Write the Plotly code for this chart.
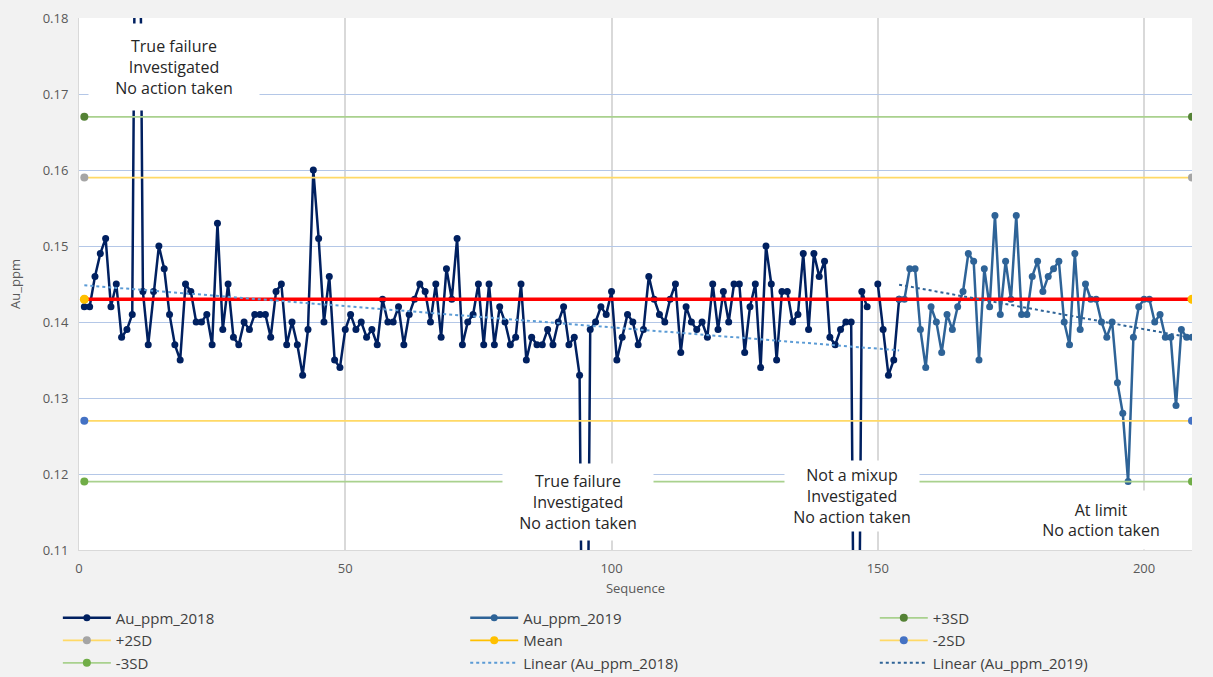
import plotly.graph_objects as go
import numpy as np

# Au_ppm control chart values (None = gap)
seq_2018 = list(range(1, 155))
au_2018 = [
    0.142, 0.142, 0.146, 0.149, 0.151, 0.142, 0.145, 0.138, 0.139, 0.141,
    0.240, 0.144, 0.137, 0.144, 0.150, 0.147, 0.141, 0.137, 0.135, 0.145,
    0.144, 0.140, 0.140, 0.141, 0.137, 0.153, 0.139, 0.145, 0.138, 0.137,
    0.140, 0.139, 0.141, 0.141, 0.141, 0.138, 0.144, 0.145, 0.137, 0.140,
    0.137, 0.133, 0.139, 0.160, 0.151, 0.140, 0.146, 0.135, 0.134, 0.139,
    0.141, 0.139, 0.140, 0.138, 0.139, 0.137, 0.143, 0.140, 0.140, 0.142,
    0.137, 0.141, 0.143, 0.145, 0.144, 0.140, 0.145, 0.138, 0.147, 0.143,
    0.151, 0.137, 0.140, 0.141, 0.145, 0.137, 0.145, 0.137, 0.142, 0.140,
    0.137, 0.138, 0.145, 0.135, 0.138, 0.137, 0.137, 0.139, 0.137, 0.140,
    0.142, 0.137, 0.138, 0.133, 0.050, 0.139, 0.140, 0.142, 0.141, 0.144,
    0.135, 0.138, 0.141, 0.140, 0.137, 0.139, 0.146, 0.143, 0.141, 0.140,
    0.143, 0.145, 0.136, 0.142, 0.140, 0.139, 0.140, 0.138, 0.145, 0.139,
    0.144, 0.140, 0.145, 0.145, 0.136, 0.142, 0.145, 0.134, 0.150, 0.145,
    0.135, 0.144, 0.144, 0.140, 0.141, 0.149, 0.139, 0.149, 0.146, 0.148,
    0.138, 0.137, 0.139, 0.140, 0.140, 0.050, 0.144, 0.142, None, 0.145,
    0.139, 0.133, 0.135, 0.143,
]

seq_2019 = list(range(154, 210))
au_2019 = [
    0.143, 0.143, 0.147, 0.147, 0.139, 0.134, 0.142, 0.140, 0.136, 0.141,
    0.139, 0.142, 0.144, 0.149, 0.148, 0.135, 0.147, 0.142, 0.154, 0.141,
    0.148, 0.143, 0.154, 0.141, 0.141, 0.146, 0.148, 0.144, 0.146, 0.147,
    0.148, 0.140, 0.137, 0.149, 0.139, 0.145, 0.143, 0.143, 0.140, 0.138,
    0.140, 0.132, 0.128, 0.119, 0.138, 0.142, 0.143, 0.143, 0.140, 0.141,
    0.138, 0.138, 0.129, 0.139, 0.138, 0.138,
]

limit_seq = [1, 209]
limit_names = ["+3SD", "+2SD", "Mean", "-2SD", "-3SD"]
limit_values = [0.167, 0.159, 0.143, 0.127, 0.119]
limit_line_colors = ["#a9d18e", "#ffd966", "#ffc000", "#ffd966", "#a9d18e"]
limit_marker_colors = ["#548235", "#a5a5a5", "#ffc000", "#4472c4", "#70ad47"]
# which legend column each limit series sits in
limit_legend = ["legend3", "legend", "legend2", "legend3", "legend"]

notes = [
    "True failure<br>Investigated<br>No action taken",
    "True failure<br>Investigated<br>No action taken",
    "Not a mixup<br>Investigated<br>No action taken",
    "At limit<br>No action taken",
]
note_x = [17.9, 93.7, 145.1, 191.9]
note_y = [0.1735, 0.1163, 0.1171, 0.1140]
note_w = [168, 148, 132, 150]
note_h = [84, 74, 68, 56]

FONT = "Open Sans, Calibri, sans-serif"


def trend(xs, ys):
    pts = [(x, y) for x, y in zip(xs, ys) if y is not None]
    px = np.array([p[0] for p in pts], dtype=float)
    py = np.array([p[1] for p in pts], dtype=float)
    slope, icpt = np.polyfit(px, py, 1)
    ends = [px.min(), px.max()]
    return ends, [slope * e + icpt for e in ends]


fig = go.Figure()

fig.add_trace(go.Scatter(
    x=seq_2018, y=au_2018, name="Au_ppm_2018", mode="lines+markers",
    line=dict(color="#002060", width=2.5), marker=dict(size=7, color="#002060"),
    connectgaps=False, legend="legend", legendrank=1,
))
fig.add_trace(go.Scatter(
    x=seq_2019, y=au_2019, name="Au_ppm_2019", mode="lines+markers",
    line=dict(color="#2e6397", width=2.5), marker=dict(size=7, color="#2e6397"),
    legend="legend2", legendrank=1,
))

for i, (name, val, lc, mc, lg) in enumerate(zip(limit_names, limit_values, limit_line_colors,
                                               limit_marker_colors, limit_legend)):
    fig.add_trace(go.Scatter(
        x=limit_seq, y=[val, val], name=name, mode="lines+markers",
        line=dict(color=lc, width=1.8), marker=dict(size=8, color=mc),
        legend=lg, legendrank=2 + i,
    ))

# red mean line drawn over everything
mean_val = limit_values[limit_names.index("Mean")]
fig.add_trace(go.Scatter(
    x=limit_seq, y=[mean_val, mean_val], mode="lines", showlegend=False,
    line=dict(color="#ff0000", width=3.5), hoverinfo="skip",
))
fig.add_trace(go.Scatter(
    x=limit_seq, y=[mean_val, mean_val], mode="markers", showlegend=False,
    marker=dict(size=9, color="#ffc000"), hoverinfo="skip",
))

tx, ty = trend(seq_2018, au_2018)
fig.add_trace(go.Scatter(
    x=tx, y=ty, name="Linear (Au_ppm_2018)", mode="lines",
    line=dict(color="#5b9bd5", width=2, dash="dot"), legend="legend2", legendrank=20,
))
tx, ty = trend(seq_2019, au_2019)
fig.add_trace(go.Scatter(
    x=tx, y=ty, name="Linear (Au_ppm_2019)", mode="lines",
    line=dict(color="#2e6397", width=2, dash="dot"), legend="legend3", legendrank=20,
))

for text, x, y, w, h in zip(notes, note_x, note_y, note_w, note_h):
    fig.add_annotation(
        x=x, y=y, text=text, showarrow=False, bgcolor="white",
        width=w, height=h, font=dict(family=FONT, size=16, color="#262626"),
        align="center", valign="middle",
    )

leg = dict(
    orientation="v", y=-0.097, xanchor="left", yanchor="top", traceorder="normal",
    font=dict(family=FONT, size=15, color="#404040"),
    bgcolor="rgba(0,0,0,0)", itemwidth=48, tracegroupgap=0,
)

fig.update_layout(
    width=1213, height=677,
    paper_bgcolor="#f2f2f2", plot_bgcolor="white",
    margin=dict(l=79, r=21, t=18, b=127, autoexpand=False),
    font=dict(family=FONT, size=13, color="#595959"),
    showlegend=True,
    legend=dict(leg, x=-0.019),
    legend2=dict(leg, x=0.347),
    legend3=dict(leg, x=0.715),
)
fig.update_xaxes(
    range=[0, 209], tickvals=[0, 50, 100, 150, 200],
    showgrid=True, gridcolor="#d9d9d9", gridwidth=1.5, zeroline=False,
    showline=True, linecolor="#d9d9d9", linewidth=1,
    ticks="", ticklabelstandoff=6, tickfont=dict(size=13, color="#595959"),
    title=dict(text="Sequence", font=dict(size=13, color="#595959"), standoff=8),
)
fig.update_yaxes(
    range=[0.11, 0.18], dtick=0.01, tickformat=".2f",
    showgrid=True, gridcolor="#b4c7e7", gridwidth=1.2, zeroline=False,
    showline=True, linecolor="#d9d9d9", linewidth=1,
    ticks="", ticklabelstandoff=7, tickfont=dict(size=13, color="#595959"),
    title=dict(text="Au_ppm", font=dict(size=13, color="#595959"), standoff=19),
)

fig.write_html(
    "out.html",
    config={"displayModeBar": False},
    post_script="document.body.style.margin='0';"
                "document.body.style.background='#f2f2f2';"
                "document.body.style.overflow='hidden';",
)
